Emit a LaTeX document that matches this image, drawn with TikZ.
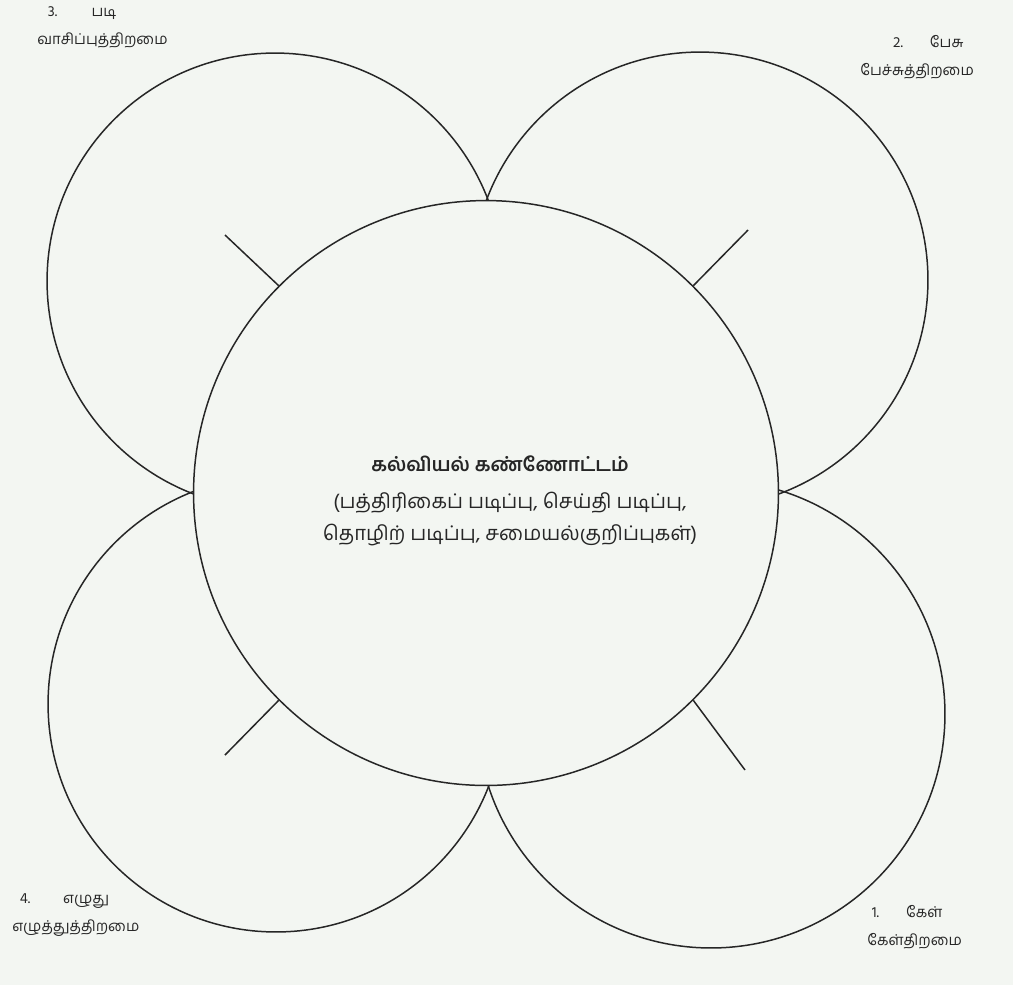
\documentclass[tikz,border=0pt]{standalone}
\usepackage{fontspec}
\newfontfamily\tamil[Script=Tamil]{Hind Madurai}
\definecolor{paper}{HTML}{F3F6F2}
\definecolor{ink}{HTML}{262626}
\begin{document}
\begin{tikzpicture}[x=0.02cm,y=-0.02cm,
  petal/.style={circle,draw=ink,line width=0.85pt,inner sep=0pt},
  hubstyle/.style={circle,draw=ink,line width=0.85pt,fill=paper,minimum size=11.7cm,inner sep=0pt},
  stem/.style={draw=ink,line width=0.85pt},
  lbl/.style={font=\tamil\fontsize{8.5}{16}\selectfont,text=ink,align=left,inner sep=0pt},
  ctext/.style={font=\tamil\fontsize{11.5}{18}\selectfont,text=ink,align=center,inner sep=0pt}]
\fill[paper] (0,0) rectangle (1013,985);
\useasboundingbox (0,0) rectangle (1013,985);
% petals
\node[petal,minimum size=9.12cm] (ptl) at (275,281) {};
\node[petal,minimum size=9.12cm] (ptr) at (700,280) {};
\node[petal,minimum size=9.12cm] (pbl) at (276,704) {};
\node[petal,minimum size=9.36cm] (pbr) at (711,714) {};
% hub
\node[hubstyle] (hub) at (486,493) {};
% stems
\coordinate (stl) at (225,235);
\coordinate (str) at (748,230);
\coordinate (sbl) at (225,755);
\coordinate (sbr) at (745,770);
\draw[stem] (hub.135) -- (stl);
\draw[stem] (hub.45) -- (str);
\draw[stem] (hub.225) -- (sbl);
\draw[stem] (hub.315) -- (sbr);
% centre text
\node[ctext,font=\tamil\bfseries\fontsize{11}{14}\selectfont] (title) at (500,464) {கல்வியல் கண்ணோட்டம்};
\node[ctext] (sub) at (510,519) {(பத்திரிகைப் படிப்பு, செய்தி படிப்பு,\\தொழிற் படிப்பு, சமையல்குறிப்புகள்)};
% labels
\node[lbl,anchor=north west] (l3) at (37,6) {\hspace{0.7em}3.\hspace{2.3em}படி\\வாசிப்புத்திறமை};
\node[lbl,anchor=north west] (l2) at (860,35) {\hspace{2.2em}2.\hspace{1.8em}பேசு\\பேச்சுத்திறமை};
\node[lbl,anchor=north west] (l4) at (12,893) {\hspace{0.5em}4.\hspace{2.2em}எழுது\\எழுத்துத்திறமை};
\node[lbl,anchor=north west] (l1) at (867,905) {\hspace{0.3em}1.\hspace{1.8em}கேள்\\கேள்திறமை};
\end{tikzpicture}
\end{document}
